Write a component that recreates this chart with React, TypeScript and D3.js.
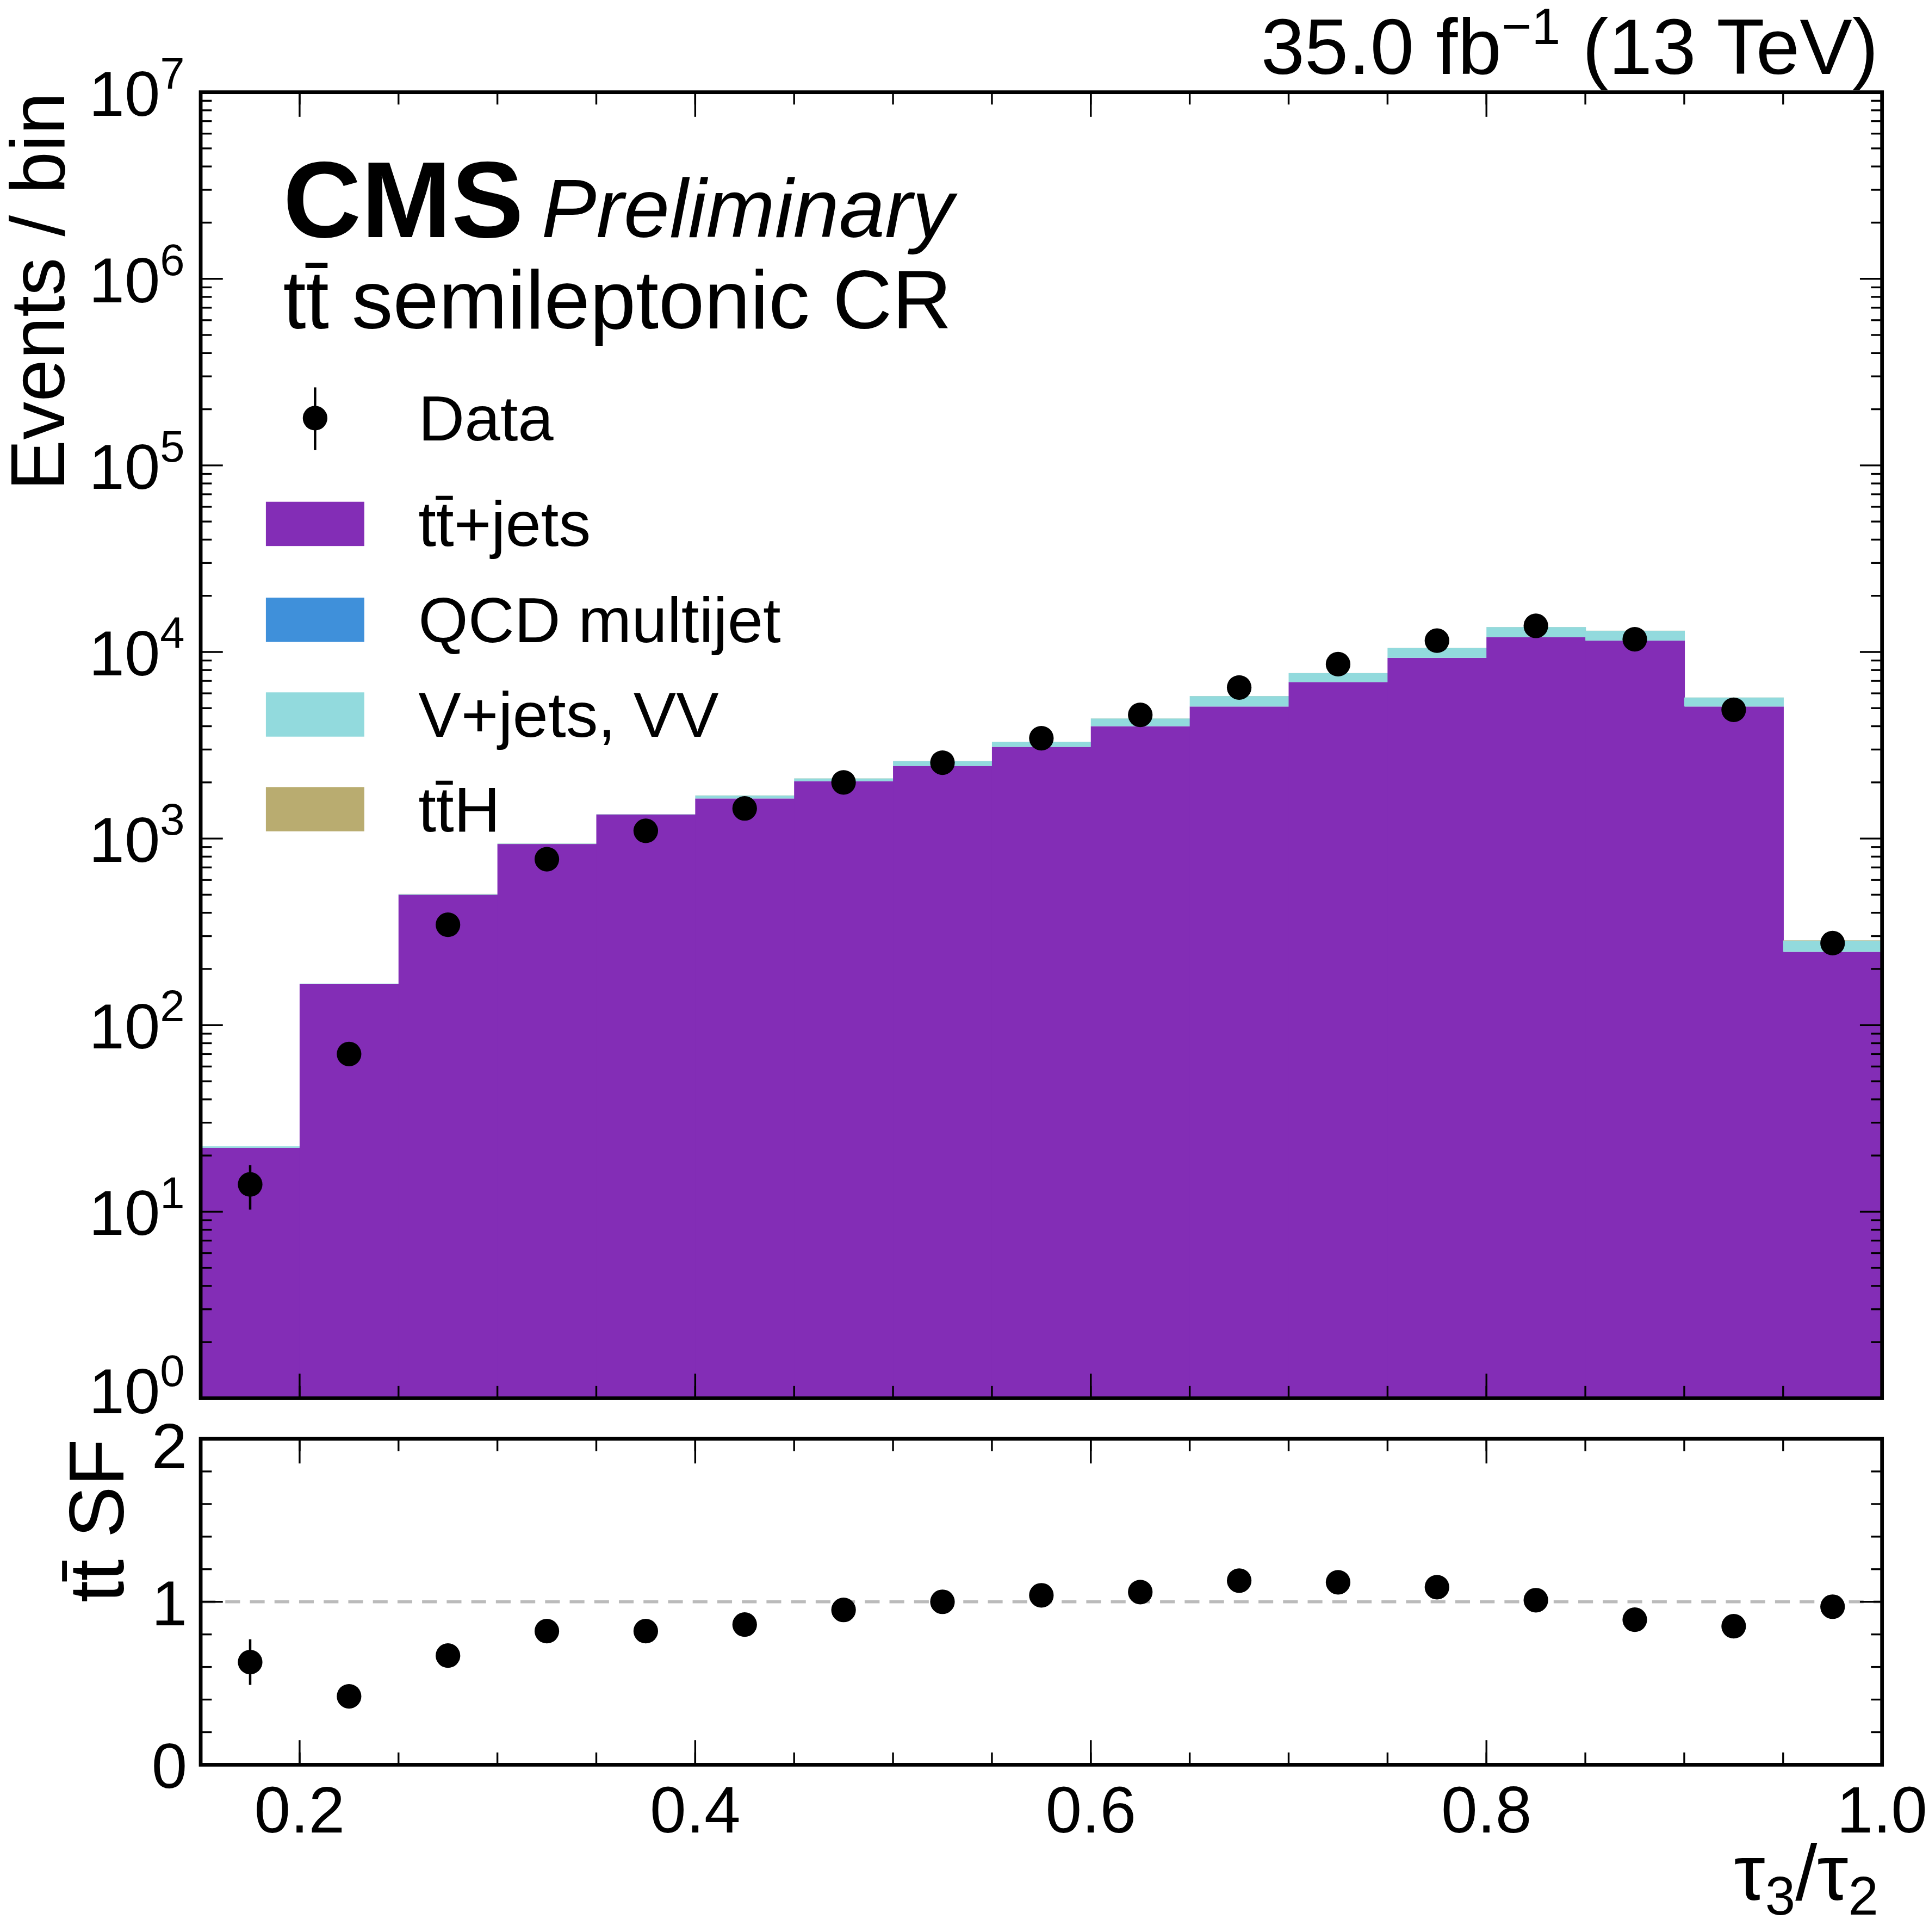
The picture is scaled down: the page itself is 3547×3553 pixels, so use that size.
import React from "react";
import * as d3 from "d3";

const edges = [0.15, 0.2, 0.25, 0.3, 0.35, 0.4, 0.45, 0.5, 0.55, 0.6, 0.65, 0.7, 0.75, 0.8, 0.85, 0.9, 0.95, 1.0];
const ttjets = [22, 166, 500, 935, 1345, 1640, 2030, 2450, 3100, 4000, 5100, 6900, 9300, 12000, 11500, 5100, 247];
const qcd = [0, 0, 0, 0, 0, 0, 0, 0, 0, 0, 0, 0, 0, 0, 0, 0, 0];
const vjets = [0.4, 1, 4, 5, 5, 60, 70, 150, 200, 400, 700, 800, 1200, 1600, 1500, 600, 37];
const tth = [0, 0, 1, 1, 1, 2, 2, 3, 3, 4, 5, 6, 8, 8, 8, 4, 1];
const data = [14, 70, 345, 775, 1100, 1450, 2000, 2550, 3450, 4600, 6450, 8600, 11500, 13800, 11700, 4900, 275];
const ratio = [0.63, 0.42, 0.67, 0.82, 0.82, 0.86, 0.95, 1.0, 1.04, 1.06, 1.13, 1.12, 1.09, 1.01, 0.89, 0.85, 0.97];
const ratioErr = [0.14, 0.04, 0.03, 0.02, 0.02, 0.02, 0.02, 0.02, 0.02, 0.02, 0.02, 0.02, 0.02, 0.02, 0.02, 0.02, 0.04];

const C = { tt: "#832db6", qcd: "#3f90da", v: "#92dadd", tth: "#b9ac70" };
const F = "'Liberation Sans', Arial, Helvetica, sans-serif";

export default function App() {
  const L = 163, R = 1530, T = 75, B = 1137, RT = 1170, RB = 1435;
  const x = d3.scaleLinear().domain([0.15, 1.0]).range([L, R]);
  const y = d3.scaleLog().domain([1, 1e7]).range([B, T]);
  const yr = d3.scaleLinear().domain([0, 2]).range([RB, RT]);
  const yc = (v: number) => y(Math.max(v, 1));

  const layers = [
    { vals: ttjets, c: C.tt },
    { vals: qcd, c: C.qcd },
    { vals: vjets, c: C.v },
    { vals: tth, c: C.tth },
  ];
  const stackRects: JSX.Element[] = [];
  for (let i = 0; i < data.length; i++) {
    let base = 0;
    layers.forEach((l, k) => {
      const top = base + l.vals[i];
      if (l.vals[i] > 0) {
        stackRects.push(
          <rect key={`s${i}-${k}`} x={x(edges[i])} width={x(edges[i + 1]) - x(edges[i]) + 0.5}
            y={yc(top)} height={Math.max(0, yc(base) - yc(top))} fill={l.c} />
        );
      }
      base = top;
    });
  }

  const decades = d3.range(0, 8);
  const minors: number[] = [];
  for (let d = 0; d < 7; d++) for (let m = 2; m <= 9; m++) minors.push(m * Math.pow(10, d));
  const xMinor = d3.range(0.15, 1.0001, 0.05);
  const xMajor = [0.2, 0.4, 0.6, 0.8, 1.0];

  const tickLines = (xs: number[], len: number, top: number, bot: number, key: string) =>
    xs.map((v, i) => (
      <g key={key + i}>
        <line x1={x(v)} x2={x(v)} y1={bot} y2={bot - len} stroke="black" strokeWidth={1.5} />
        <line x1={x(v)} x2={x(v)} y1={top} y2={top + len} stroke="black" strokeWidth={1.5} />
      </g>
    ));

  const mc = (i: number) => (x(edges[i]) + x(edges[i + 1])) / 2;

  return (
    <svg width={3547} height={3553} viewBox="0 0 1568 1571" style={{ position: "absolute", left: 0, top: 0, background: "white" }} fontFamily={F}>
      <rect x={0} y={0} width={1568} height={1571} fill="white" />
      {stackRects}
      {data.map((v, i) => {
        const e = Math.sqrt(v);
        return (
          <g key={"d" + i}>
            <line x1={mc(i)} x2={mc(i)} y1={yc(v + e)} y2={yc(Math.max(v - e, 1))} stroke="black" strokeWidth={2} />
            <circle cx={mc(i)} cy={yc(v)} r={10} fill="black" />
          </g>
        );
      })}
      {decades.map((d) => (
        <g key={"yd" + d}>
          <line x1={L} x2={L + 18} y1={y(Math.pow(10, d))} y2={y(Math.pow(10, d))} stroke="black" strokeWidth={1.5} />
          <line x1={R} x2={R - 18} y1={y(Math.pow(10, d))} y2={y(Math.pow(10, d))} stroke="black" strokeWidth={1.5} />
          <text x={150} y={y(Math.pow(10, d)) + (d === 0 ? 12 : 19)} textAnchor="end" fontSize={52}>
            10<tspan dy={-22} fontSize={36}>{d}</tspan>
          </text>
        </g>
      ))}
      {minors.map((v, i) => (
        <g key={"ym" + i}>
          <line x1={L} x2={L + 9} y1={y(v)} y2={y(v)} stroke="black" strokeWidth={1.5} />
          <line x1={R} x2={R - 9} y1={y(v)} y2={y(v)} stroke="black" strokeWidth={1.5} />
        </g>
      ))}
      {tickLines(xMinor, 10, T, B, "xm")}
      {tickLines(xMajor, 20, T, B, "xM")}
      <rect x={L} y={T} width={R - L} height={B - T} fill="none" stroke="black" strokeWidth={3} />

      <line x1={L} x2={R} y1={yr(1)} y2={yr(1)} stroke="#bbbbbb" strokeWidth={2.5} strokeDasharray="12,8" />
      {ratio.map((v, i) => (
        <g key={"r" + i}>
          <line x1={mc(i)} x2={mc(i)} y1={yr(v + ratioErr[i])} y2={yr(v - ratioErr[i])} stroke="black" strokeWidth={2} />
          <circle cx={mc(i)} cy={yr(v)} r={10} fill="black" />
        </g>
      ))}
      {d3.range(0, 2.001, 0.2).map((v, i) => {
        const major = Math.abs(v - Math.round(v)) < 1e-6;
        const len = major ? 18 : 9;
        return (
          <g key={"ry" + i}>
            <line x1={L} x2={L + len} y1={yr(v)} y2={yr(v)} stroke="black" strokeWidth={1.5} />
            <line x1={R} x2={R - len} y1={yr(v)} y2={yr(v)} stroke="black" strokeWidth={1.5} />
            {major && (
              <text x={152} y={yr(v) + (v > 1.5 ? 24 : 19)} textAnchor="end" fontSize={52}>{Math.round(v)}</text>
            )}
          </g>
        );
      })}
      {tickLines(xMinor, 10, RT, RB, "rxm")}
      {tickLines(xMajor, 20, RT, RB, "rxM")}
      <rect x={L} y={RT} width={R - L} height={RB - RT} fill="none" stroke="black" strokeWidth={3} />
      {xMajor.map((v) => (
        <text key={"xl" + v} x={x(v)} y={1490} textAnchor="middle" fontSize={53}>{v.toFixed(1)}</text>
      ))}

      <text x={1527} y={1545} textAnchor="end" fontSize={64}>
        τ<tspan dy={12} fontSize={44}>3</tspan><tspan dy={-12}>/τ</tspan><tspan dy={12} fontSize={44}>2</tspan>
      </text>
      <text transform="translate(52,75) rotate(-90)" textAnchor="end" fontSize={62}>Events / bin</text>
      <text transform="translate(100,1170) rotate(-90)" textAnchor="end" fontSize={63}>tt̄ SF</text>
      <text x={1527} y={60} textAnchor="end" fontSize={64}>
        35.0 fb<tspan dy={-24} fontSize={42}>−1</tspan><tspan dy={24}> (13 TeV)</tspan>
      </text>
      <text x={230} y={193} fontSize={88} fontWeight="bold">CMS</text>
      <text x={440} y={193} fontSize={67} fontStyle="italic">Preliminary</text>
      <text x={230} y={267} fontSize={67}>tt̄ semileptonic CR</text>

      <line x1={256} x2={256} y1={315} y2={366} stroke="black" strokeWidth={2} />
      <circle cx={256} cy={340} r={10} fill="black" />
      <text x={340} y={358} fontSize={52}>Data</text>
      {[
        { c: C.tt, t: "tt̄+jets", y: 408 },
        { c: C.qcd, t: "QCD multijet", y: 486 },
        { c: C.v, t: "V+jets, VV", y: 563 },
        { c: C.tth, t: "tt̄H", y: 640 },
      ].map((e) => (
        <g key={e.t}>
          <rect x={216} y={e.y} width={80} height={36} fill={e.c} />
          <text x={340} y={e.y + 36} fontSize={52}>{e.t}</text>
        </g>
      ))}
    </svg>
  );
}
